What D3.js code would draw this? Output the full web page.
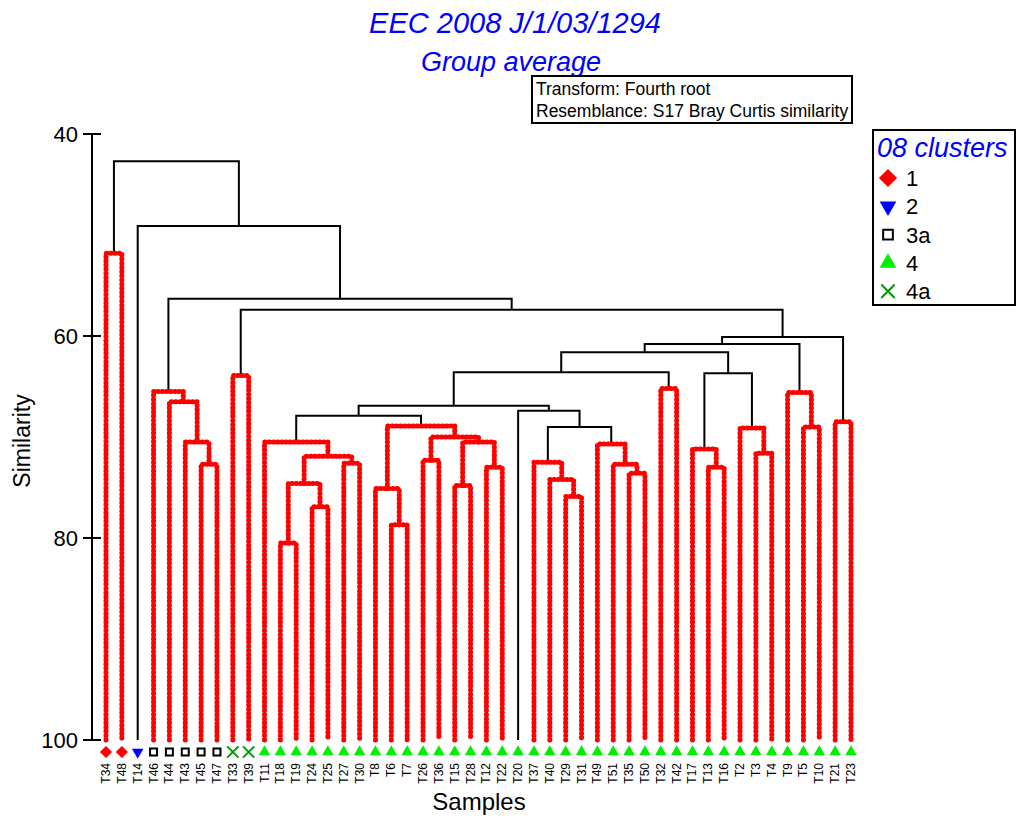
<!DOCTYPE html>
<html>
<head>
<meta charset="utf-8">
<script src="https://cdn.jsdelivr.net/npm/d3@7"></script>
<style>
  body { margin: 0; background: #fff; }
  svg { font-family: "Liberation Sans", Arial, sans-serif; }
</style>
</head>
<body>
<div id="chart"></div>
<script>
// leaf order as drawn, left to right
const samples = ["T34","T48","T14","T46","T44","T43","T45","T47","T33","T39",
  "T11","T18","T19","T24","T25","T27","T30","T8","T6","T7",
  "T26","T36","T15","T28","T12","T22","T20","T37","T40","T29",
  "T31","T49","T51","T35","T50","T32","T42","T17","T13","T16",
  "T2","T3","T4","T9","T5","T10","T21","T23"];

const sampleGroups = ["1","1","2","3a","3a","3a","3a","3a","4a","4a",
  "4","4","4","4","4","4","4","4","4","4",
  "4","4","4","4","4","4","4","4","4","4",
  "4","4","4","4","4","4","4","4","4","4",
  "4","4","4","4","4","4","4","4"];

const legendGroups = ["1", "2", "3a", "4", "4a"];

// merges: [id, left, right, similarity, significant (black) or not (red)]
const merges = [
  ["a1", "T34", "T48", 51.8, false],
  ["b1", "T45", "T47", 72.7, false],
  ["b2", "T43", "b1", 70.5, false],
  ["b3", "T44", "b2", 66.5, false],
  ["b4", "T46", "b3", 65.5, false],
  ["c1", "T33", "T39", 63.9, false],
  ["d1", "T18", "T19", 80.5, false],
  ["d2", "T24", "T25", 76.9, false],
  ["d3", "d1", "d2", 74.6, false],
  ["d4", "T27", "T30", 72.6, false],
  ["d5", "d3", "d4", 71.9, false],
  ["d6", "T11", "d5", 70.5, false],
  ["e1", "T6", "T7", 78.7, false],
  ["e2", "T8", "e1", 75.1, false],
  ["e3", "T26", "T36", 72.3, false],
  ["e4", "T15", "T28", 74.8, false],
  ["e5", "T12", "T22", 73.0, false],
  ["e6", "e4", "e5", 70.5, false],
  ["e7", "e3", "e6", 70.0, false],
  ["e8", "e2", "e7", 68.9, false],
  ["f1", "d6", "e8", 67.9, true],
  ["g1", "T29", "T31", 75.9, false],
  ["g2", "T40", "g1", 74.2, false],
  ["g3", "T37", "g2", 72.5, false],
  ["g4", "T35", "T50", 73.6, false],
  ["g5", "T51", "g4", 72.7, false],
  ["g6", "T49", "g5", 70.7, false],
  ["g7", "g3", "g6", 69.0, true],
  ["g8", "T20", "g7", 67.4, true],
  ["h1", "f1", "g8", 66.9, true],
  ["h2", "T32", "T42", 65.2, false],
  ["h3", "h1", "h2", 63.6, true],
  ["i1", "T13", "T16", 73.0, false],
  ["i2", "T17", "i1", 71.2, false],
  ["i3", "T3", "T4", 71.6, false],
  ["i4", "T2", "i3", 69.1, false],
  ["i5", "i2", "i4", 63.7, true],
  ["j1", "h3", "i5", 61.6, true],
  ["k1", "T5", "T10", 69.0, false],
  ["k2", "T9", "k1", 65.6, false],
  ["k3", "j1", "k2", 60.8, true],
  ["l1", "T21", "T23", 68.5, false],
  ["l2", "k3", "l1", 60.1, true],
  ["m1", "c1", "l2", 57.4, true],
  ["m2", "b4", "m1", 56.3, true],
  ["m3", "T14", "m2", 49.1, true],
  ["root", "a1", "m3", 42.7, true]
];

const yTicks = [40, 60, 80, 100];

const width = 1017, height = 816;

const svg = d3.select("#chart").append("svg")
  .attr("width", width)
  .attr("height", height);

const x = d3.scalePoint().domain(samples).range([106, 851]);
const y = d3.scaleLinear().domain([40, 100]).range([134, 740]);

// build nested tree from merge list
const nodes = {};
samples.forEach((s, i) => { nodes[s] = { name: s, sim: 100, group: sampleGroups[i] }; });
merges.forEach(([id, l, r, sim, sig]) => {
  nodes[id] = { name: id, sim: sim, sig: sig, children: [nodes[l], nodes[r]] };
});
const root = d3.hierarchy(nodes["root"]);
root.eachAfter(d => {
  d.py = y(d.data.sim);
  d.px = d.children ? (d.children[0].px + d.children[1].px) / 2 : x(d.data.name);
});

const internal = root.descendants().filter(d => d.children);
const linkPath = d => {
  const [a, b] = d.children;
  return `M${a.px},${a.py}V${d.py}H${b.px}V${b.py}`;
};

svg.append("g").selectAll("path")
  .data(internal.filter(d => d.data.sig))
  .join("path")
  .attr("d", linkPath)
  .attr("fill", "none")
  .attr("stroke", "#000")
  .attr("stroke-width", 2);

svg.append("g").selectAll("path")
  .data(internal.filter(d => !d.data.sig))
  .join("path")
  .attr("d", linkPath)
  .attr("fill", "none")
  .attr("stroke", "#ff0000")
  .attr("stroke-width", 5)
  .attr("stroke-linecap", "round")
  .attr("stroke-linejoin", "round")
  .attr("stroke-dasharray", "0.6 3.6");

// y axis
const axis = svg.append("g");
axis.append("line")
  .attr("x1", 92).attr("x2", 92)
  .attr("y1", y(40)).attr("y2", y(100))
  .attr("stroke", "#000").attr("stroke-width", 2);
axis.selectAll(".tick").data(yTicks).join("line")
  .attr("x1", 83).attr("x2", 101)
  .attr("y1", d => y(d)).attr("y2", d => y(d))
  .attr("stroke", "#000").attr("stroke-width", 2);
axis.selectAll("text").data(yTicks).join("text")
  .attr("x", 78).attr("y", d => y(d))
  .attr("dy", "0.36em")
  .attr("text-anchor", "end")
  .attr("font-size", 22)
  .text(d => d);

svg.append("text")
  .attr("transform", "translate(30,441) rotate(-90)")
  .attr("text-anchor", "middle")
  .attr("font-size", 23)
  .text("Similarity");

svg.append("text")
  .attr("x", 479).attr("y", 810)
  .attr("text-anchor", "middle")
  .attr("font-size", 24)
  .text("Samples");

// markers (size for leaves, legend size for the key)
const symStyle = {
  "1": { type: d3.symbolDiamond2, fill: "#ff0000", stroke: "none", size: 95, legend: 210, rot: 0 },
  "2": { type: d3.symbolTriangle2, fill: "#0000ff", stroke: "none", size: 95, legend: 200, rot: 180 },
  "3a": { type: d3.symbolSquare2, fill: "none", stroke: "#000", size: 62, legend: 120, rot: 0 },
  "4": { type: d3.symbolTriangle2, fill: "#00ee00", stroke: "none", size: 95, legend: 200, rot: 0 },
  "4a": { type: d3.symbolX, fill: "none", stroke: "#009900", size: 85, legend: 120, rot: 0 }
};
const drawSym = (sel, key) => sel
  .attr("d", d => d3.symbol(symStyle[d].type, symStyle[d][key])())
  .attr("fill", d => symStyle[d].fill)
  .attr("stroke", d => symStyle[d].stroke)
  .attr("stroke-width", 2);

const leaves = root.leaves();
svg.append("g").selectAll("path")
  .data(leaves.map(d => d.data.group))
  .join("path")
  .call(drawSym, "size")
  .attr("transform", (d, i) => `translate(${leaves[i].px},752) rotate(${symStyle[d].rot})`);

svg.append("g").selectAll("text")
  .data(leaves)
  .join("text")
  .attr("transform", d => `translate(${d.px + 4},763) rotate(-90)`)
  .attr("text-anchor", "end")
  .attr("font-size", 12)
  .text(d => d.data.name);

// titles
svg.append("text")
  .attr("x", 515).attr("y", 33)
  .attr("text-anchor", "middle")
  .attr("font-size", 29).attr("font-style", "italic")
  .attr("fill", "#0000ff")
  .text("EEC 2008 J/1/03/1294");
svg.append("text")
  .attr("x", 511).attr("y", 71)
  .attr("text-anchor", "middle")
  .attr("font-size", 27).attr("font-style", "italic")
  .attr("fill", "#0000ff")
  .text("Group average");

// info box
const info = svg.append("g");
info.append("rect")
  .attr("x", 532).attr("y", 76).attr("width", 320).attr("height", 47)
  .attr("fill", "#fff").attr("stroke", "#000").attr("stroke-width", 2);
info.selectAll("text")
  .data(["Transform: Fourth root", "Resemblance: S17 Bray Curtis similarity"])
  .join("text")
  .attr("x", 536).attr("y", (d, i) => 95 + i * 22)
  .attr("font-size", 17.5)
  .text(d => d);

// legend
const legend = svg.append("g");
legend.append("rect")
  .attr("x", 873).attr("y", 130).attr("width", 142).attr("height", 175)
  .attr("fill", "#fff").attr("stroke", "#000").attr("stroke-width", 2);
legend.append("text")
  .attr("x", 877).attr("y", 157)
  .attr("font-size", 27).attr("font-style", "italic")
  .attr("fill", "#0000ff")
  .text("08 clusters");
legend.selectAll("path")
  .data(legendGroups)
  .join("path")
  .call(drawSym, "legend")
  .attr("transform", (d, i) => `translate(888,${178 + i * 28.3}) rotate(${symStyle[d].rot})`);
legend.selectAll(".lab")
  .data(legendGroups)
  .join("text")
  .attr("class", "lab")
  .attr("x", 906).attr("y", (d, i) => 178 + i * 28.3)
  .attr("dy", "0.36em")
  .attr("font-size", 22)
  .text(d => d);
</script>
</body>
</html>
